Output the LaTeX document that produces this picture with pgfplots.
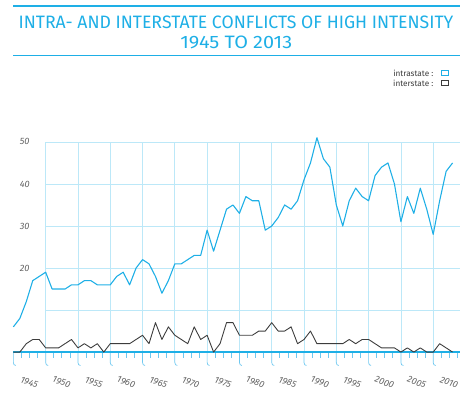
\documentclass[border=0pt]{standalone}
\usepackage{pgfplots}
\pgfplotsset{compat=1.18}
\usepackage{fontspec}
\setmainfont{Fira Sans}
\definecolor{cy}{RGB}{30,175,230}
\definecolor{grd}{RGB}{188,232,248}
\definecolor{tk}{RGB}{110,200,240}
\definecolor{lab}{RGB}{100,100,100}
\definecolor{inter}{RGB}{60,60,60}
\pgfplotstableread{
year intra inter
1945 6 0
1946 8 0
1947 12 2
1948 17 3
1949 18 3
1950 19 1
1951 15 1
1952 15 1
1953 15 2
1954 16 3
1955 16 1
1956 17 2
1957 17 1
1958 16 2
1959 16 0
1960 16 2
1961 18 2
1962 19 2
1963 16 2
1964 20 3
1965 22 4
1966 21 2
1967 18 7
1968 14 3
1969 17 6
1970 21 4
1971 21 3
1972 22 2
1973 23 6
1974 23 3
1975 29 4
1976 24 0
1977 29 2
1978 34 7
1979 35 7
1980 33 4
1981 37 4
1982 36 4
1983 36 5
1984 29 5
1985 30 7
1986 32 5
1987 35 5
1988 34 6
1989 36 2
1990 41 3
1991 45 5
1992 51 2
1993 46 2
1994 44 2
1995 35 2
1996 30 2
1997 36 3
1998 39 2
1999 37 3
2000 36 3
2001 42 2
2002 44 1
2003 45 1
2004 40 1
2005 31 0
2006 37 1
2007 33 0
2008 39 1
2009 34 0
2010 28 0
2011 36 2
2012 43 1
2013 45 0
}\datatable
\begin{document}
\begin{tikzpicture}
\begin{axis}[
  scale only axis, width=451.3pt, height=212.2pt,
  xmin=1945, xmax=2014.2, ymin=0, ymax=50,
  clip=false,
  axis line style={draw=none},
  xtick={1945,1950,...,2010},
  ytick={20,30,40,50},
  xtick pos=lower, ytick pos=left,
  tick align=outside,
  major tick length=13.5pt,
  xtick style={draw=none},
  ytick style={draw=none},
  /pgf/number format/1000 sep={},
  /pgf/number format/assume math mode=true,
  ticklabel style={font=\itshape\fontsize{9.3}{11}\selectfont, text=lab},
  xticklabel style={anchor=center, xshift=16pt, yshift=-17pt, rotate=-20},
  yticklabel style={anchor=center, xshift=25pt},
]
\pgfplotsinvokeforeach{10,20,30,40,50}{\draw[grd, line width=0.8pt] (axis cs:1950,#1) -- (axis cs:2014.2,#1);}
\pgfplotsinvokeforeach{1950,1955,1960,1965,1970,1975,1980,1985,1990,1995,2000,2005,2010}{\draw[grd, line width=0.8pt] (axis cs:#1,0) -- (axis cs:#1,50);}
\pgfplotsinvokeforeach{1945,1950,1955,1960,1965,1970,1975,1980,1985,1990,1995,2000,2005,2010}{
  \draw[tk, line width=0.7pt] (axis cs:#1,0) -- ++(0pt,-10.5pt) .. controls ++(0pt,-2pt) and ++(-1.5pt,0pt) .. ++(2.5pt,-3pt);
}
\pgfplotsinvokeforeach{1946.25,1947.5,1948.75,1951.25,1952.5,1953.75,1956.25,1957.5,1958.75,1961.25,1962.5,1963.75,1966.25,1967.5,1968.75,1971.25,1972.5,1973.75,1976.25,1977.5,1978.75,1981.25,1982.5,1983.75,1986.25,1987.5,1988.75,1991.25,1992.5,1993.75,1996.25,1997.5,1998.75,2001.25,2002.5,2003.75,2006.25,2007.5,2008.75,2011.25,2012.5,2013.75}{
  \draw[tk, line width=0.7pt] (axis cs:#1,0) -- ++(0pt,-6pt);
}
\draw[cy, line width=1.4pt] (axis cs:1945,0) -- (axis cs:2014.2,0);
\addplot[cy, line width=1.1pt, line join=round] table[x=year, y=intra] {\datatable};
\addplot[inter, line width=0.9pt, line join=round] table[x=year, y=inter] {\datatable};
\end{axis}
\draw[cy, line width=1.5pt] (0pt,349.5pt) -- (451.3pt,349.5pt);
\draw[cy, line width=1.5pt] (0pt,299.5pt) -- (451.3pt,299.5pt);
\node[text=cy, inner sep=0, anchor=base] at (224.8pt,327.2pt) {\resizebox{439pt}{12.7pt}{\fontsize{18}{20}\selectfont INTRA- AND INTERSTATE CONFLICTS OF HIGH INTENSITY}};
\node[text=cy, inner sep=0, anchor=base] at (225pt,306.2pt) {\resizebox{113pt}{12.7pt}{\fontsize{18}{20}\selectfont 1945 TO 2013}};
\node[anchor=east, inner sep=0, text=inter, font=\fontsize{8.3}{10}\selectfont] at (424.3pt,281.5pt) {intrastate :};
\draw[cy, line width=0.9pt] (432.6pt,279.2pt) rectangle (438.8pt,284pt);
\node[anchor=east, inner sep=0, text=inter, font=\fontsize{8.3}{10}\selectfont] at (424.3pt,271.5pt) {interstate :};
\draw[inter, line width=0.9pt] (432.6pt,269.2pt) rectangle (438.8pt,274pt);
\path[use as bounding box] (-11.7pt,-52.5pt) rectangle (451.3pt,355.5pt);
\end{tikzpicture}
\end{document}
